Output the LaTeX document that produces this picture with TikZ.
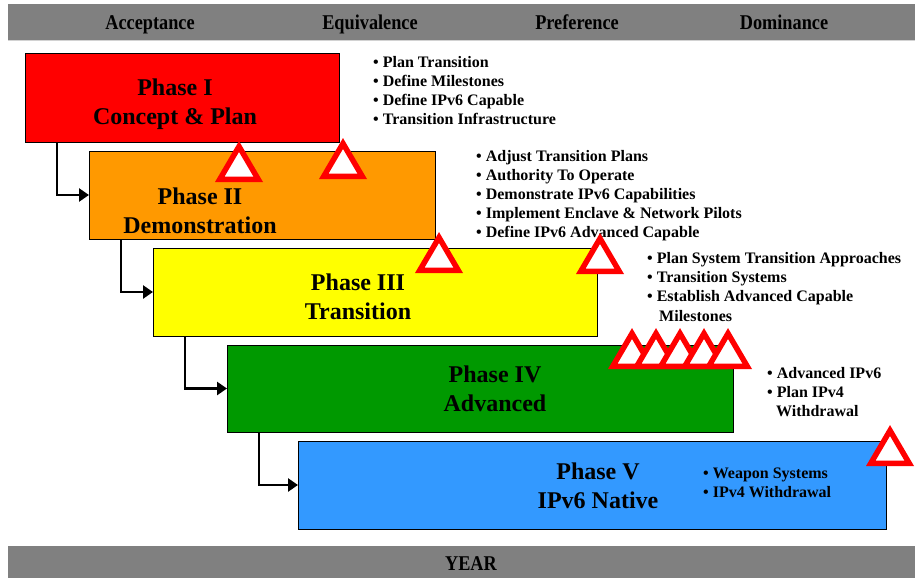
\documentclass[tikz,border=0pt]{standalone}
\usepackage{fontspec}
\setmainfont{Liberation Serif}
\usetikzlibrary{arrows.meta}

\definecolor{bandgray}{RGB}{128,128,128}
\definecolor{phaseRed}{RGB}{255,0,0}
\definecolor{phaseOrange}{RGB}{255,153,0}
\definecolor{phaseYellow}{RGB}{255,255,0}
\definecolor{phaseGreen}{RGB}{0,153,0}
\definecolor{phaseBlue}{RGB}{51,153,255}

\tikzset{
  phasebox/.style={draw=black, line width=0.8pt, inner sep=0pt, outer sep=0pt, anchor=north west},
  phasetitle/.style={font=\bfseries\fontsize{24}{29}\selectfont, align=center, inner sep=0pt},
  banner/.style={font=\bfseries\fontsize{21}{24}\selectfont, inner sep=0pt, anchor=base},
  item/.style={font=\bfseries\fontsize{16}{19}\selectfont, anchor=base west, inner sep=0pt},
  conn/.style={line width=2.6pt, -{Triangle[length=10pt,width=13pt]}},
  milestone/.pic={
    \draw[phaseRed, line width=5.5pt, line join=miter, fill=white]
      (0,5.5) -- (19.2,38.25) -- (-19.2,38.25) -- cycle;
  }
}
\newcommand{\bandtext}[1]{\scalebox{0.87}[1]{#1}}

\begin{document}
\begin{tikzpicture}[x=1pt,y=-1pt]
  \useasboundingbox (0,0) rectangle (915,578);

  % top and bottom bands
  \fill[bandgray] (8,4) rectangle (915,40);
  \draw[gray!35, line width=1pt] (8,40.5) -- (915,40.5);
  \fill[bandgray] (8,546) rectangle (915,578);
  \node[banner] (hAcc) at (150,30) {\bandtext{Acceptance}};
  \node[banner] (hEqu) at (370,30) {\bandtext{Equivalence}};
  \node[banner] (hPre) at (577,30) {\bandtext{Preference}};
  \node[banner] (hDom) at (784,30) {\bandtext{Dominance}};
  \node[banner] (year) at (471,570) {\bandtext{YEAR}};

  % phase boxes
  \node[phasebox, fill=phaseRed,    minimum width=314pt, minimum height=89pt] (p1) at (25,53)  {};
  \node[phasebox, fill=phaseOrange, minimum width=346pt, minimum height=88pt] (p2) at (89,151) {};
  \node[phasebox, fill=phaseYellow, minimum width=444pt, minimum height=88pt] (p3) at (153,248) {};
  \node[phasebox, fill=phaseGreen,  minimum width=506pt, minimum height=87pt] (p4) at (227,345) {};
  \node[phasebox, fill=phaseBlue,   minimum width=588pt, minimum height=88pt] (p5) at (298,441) {};

  % phase titles
  \node[phasetitle] (t1) at (175,104) {Phase I\\Concept \& Plan};
  \node[phasetitle] (t2) at (200,211) {Phase II\\Demonstration};
  \node[phasetitle] (t3) at (358,297) {Phase III\\Transition};
  \node[phasetitle] (t4) at (495,389) {Phase IV\\Advanced};
  \node[phasetitle] (t5) at (598,486) {Phase V\\IPv6 Native};

  % step connectors
  \draw[conn] ([xshift=32pt]p1.south west) |- (p2.west);
  \draw[conn] ([xshift=32pt]p2.south west) |- (p3.west);
  \draw[conn] ([xshift=32pt]p3.south west) |- (p4.west);
  \draw[conn] ([xshift=32pt]p4.south west) |- (p5.west);

  % activity lists
  \foreach \txt [count=\i] in {Plan Transition, Define Milestones, Define IPv6 Capable, Transition Infrastructure}
    \node[item] (a\i) at (373,48+19*\i) {\textbullet\ \txt};
  \foreach \txt [count=\i] in {Adjust Transition Plans, Authority To Operate, Demonstrate IPv6 Capabilities, Implement Enclave \& Network Pilots, Define IPv6 Advanced Capable}
    \node[item] (b\i) at (476,142+19*\i) {\textbullet\ \txt};
  \foreach \txt [count=\i] in {Plan System Transition Approaches, Transition Systems, Establish Advanced Capable}
    \node[item] (c\i) at (647,244+19*\i) {\textbullet\ \txt};
  \node[item] (c4) at (659,321) {Milestones};
  \foreach \txt [count=\i] in {Advanced IPv6, Plan IPv4}
    \node[item] (d\i) at (767,359+19*\i) {\textbullet\ \txt};
  \node[item] (d3) at (776,416) {Withdrawal};
  \foreach \txt [count=\i] in {Weapon Systems, IPv4 Withdrawal}
    \node[item] (e\i) at (703,459+19*\i) {\textbullet\ \txt};

  % milestone markers
  \pic (m1) at (239,141) {milestone};
  \pic (m2) at (343,138) {milestone};
  \pic (m3) at (439,232) {milestone};
  \pic (m4) at (600,233) {milestone};
  \foreach \mx [count=\k] in {632,656,680,704,728}
    \pic (n\k) at (\mx,328) {milestone};
  \pic (m5) at (890,425) {milestone};
\end{tikzpicture}
\end{document}
